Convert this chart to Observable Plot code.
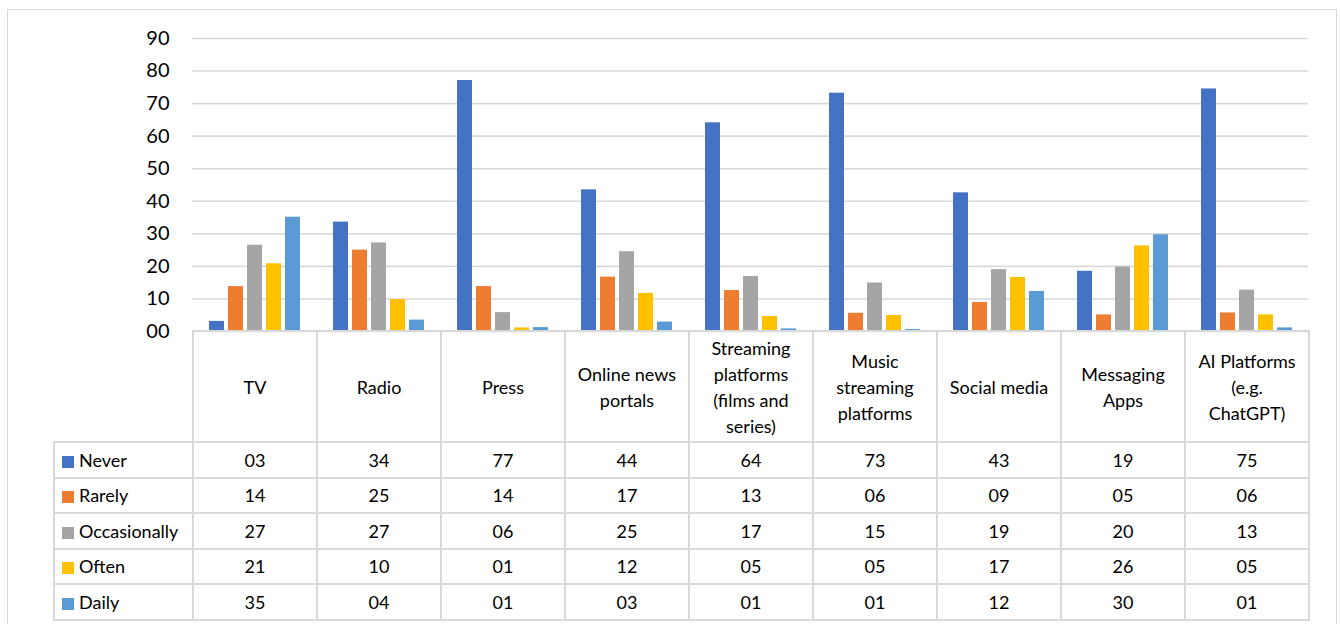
<!DOCTYPE html>
<html>
<head>
<meta charset="utf-8">
<script src="https://cdn.jsdelivr.net/npm/d3@7"></script>
<script src="https://cdn.jsdelivr.net/npm/@observablehq/plot@0.6"></script>
<style>
  html, body { margin: 0; padding: 0; background: #fff; }
  #wrap { position: relative; width: 1340px; height: 624px; overflow: hidden; font-family: Lato, "Open Sans", sans-serif; color: #000; }
  #frame { position: absolute; left: 7px; top: 9px; width: 1330px; height: 700px; border: 1px solid #d9d9d9; box-sizing: border-box; }
  #chart { position: absolute; left: 0; top: 0; }
  #tbl { position: absolute; left: 53px; top: 330px; border-collapse: collapse; table-layout: fixed; font-size: 18px; }
  #tbl td { border: 2px solid #d9d9d9; text-align: center; vertical-align: middle; padding: 0 4px; box-sizing: border-box; }
  #tbl tr.head td { height: 111px; line-height: 26px; white-space: pre-line; }
  #tbl tr.head td.corner { border-top: none; border-left: none; }
  #tbl tr.row td { height: 35.5px; }
  #tbl td.leg { text-align: left; padding-left: 7px; white-space: nowrap; }
  #tbl .sw { display: inline-block; width: 12px; height: 12px; margin-right: 5px; vertical-align: -1px; }
</style>
</head>
<body>
<div id="wrap">
  <div id="frame"></div>
  <div id="chart"></div>
  <table id="tbl"></table>
</div>
<script>
const categories = ["TV", "Radio", "Press", "Online news portals", "Streaming platforms (films and series)", "Music streaming platforms", "Social media", "Messaging Apps", "AI Platforms (e.g. ChatGPT)"];
const categoryLabels = ["TV", "Radio", "Press", "Online news\nportals", "Streaming\nplatforms\n(films and\nseries)", "Music\nstreaming\nplatforms", "Social media", "Messaging\nApps", "AI Platforms\n(e.g.\nChatGPT)"];
const seriesNames = ["Never", "Rarely", "Occasionally", "Often", "Daily"];
const colors = ["#4472C4", "#ED7D31", "#A5A5A5", "#FFC000", "#5B9BD5"];
const never        = [3.1, 33.6, 77.1, 43.5, 64.1, 73.2, 42.6, 18.5, 74.5];
const rarely       = [13.8, 25.0, 13.8, 16.7, 12.6, 5.6, 8.9, 5.1, 5.7];
const occasionally = [26.5, 27.2, 5.8, 24.5, 16.9, 14.9, 19.0, 19.8, 12.7];
const often        = [20.8, 9.8, 1.1, 11.7, 4.6, 4.9, 16.6, 26.3, 5.1];
const daily        = [35.1, 3.5, 1.2, 2.9, 0.8, 0.6, 12.3, 29.7, 1.1];
const yTicks = [0, 10, 20, 30, 40, 50, 60, 70, 80, 90];

const seriesValues = [never, rarely, occasionally, often, daily];
const data = [];
seriesNames.forEach((s, i) => categories.forEach((c, j) => data.push({category: c, series: s, value: seriesValues[i][j]})));
const fmt = d3.format("02d");

const chart = Plot.plot({
  width: 1340,
  height: 352,
  marginLeft: 192,
  marginRight: 32,
  marginTop: 38,
  marginBottom: 21,
  style: {fontFamily: "Lato, 'Open Sans', sans-serif", background: "transparent", color: "#000", overflow: "visible"},
  fx: {domain: categories, padding: 0, axis: null},
  x: {domain: seriesNames, paddingInner: 0.22, paddingOuter: 0.84, axis: null},
  y: {domain: [0, 90]},
  color: {domain: seriesNames, range: colors},
  marks: [
    Plot.gridY(yTicks, {stroke: "#d9d9d9", strokeOpacity: 1, strokeWidth: 1.6}),
    Plot.axisY(yTicks, {tickSize: 0, tickPadding: 23, fontSize: 20, fill: "#000", tickFormat: fmt, label: null}),
    Plot.barY(data, {fx: "category", x: "series", y: "value", fill: "series"})
  ]
});
document.getElementById("chart").appendChild(chart);

// Data table below the chart
const tbl = d3.select("#tbl");
const cg = tbl.append("colgroup");
cg.append("col").style("width", "139px");
categories.forEach(() => cg.append("col").style("width", "124px"));
const head = tbl.append("tr").attr("class", "head");
head.append("td").attr("class", "corner");
categoryLabels.forEach(l => head.append("td").text(l));
seriesNames.forEach((s, i) => {
  const tr = tbl.append("tr").attr("class", "row");
  const lg = tr.append("td").attr("class", "leg");
  lg.append("span").attr("class", "sw").style("background", colors[i]);
  lg.append("span").text(s);
  seriesValues[i].forEach(v => tr.append("td").text(fmt(Math.round(v))));
});
</script>
</body>
</html>
